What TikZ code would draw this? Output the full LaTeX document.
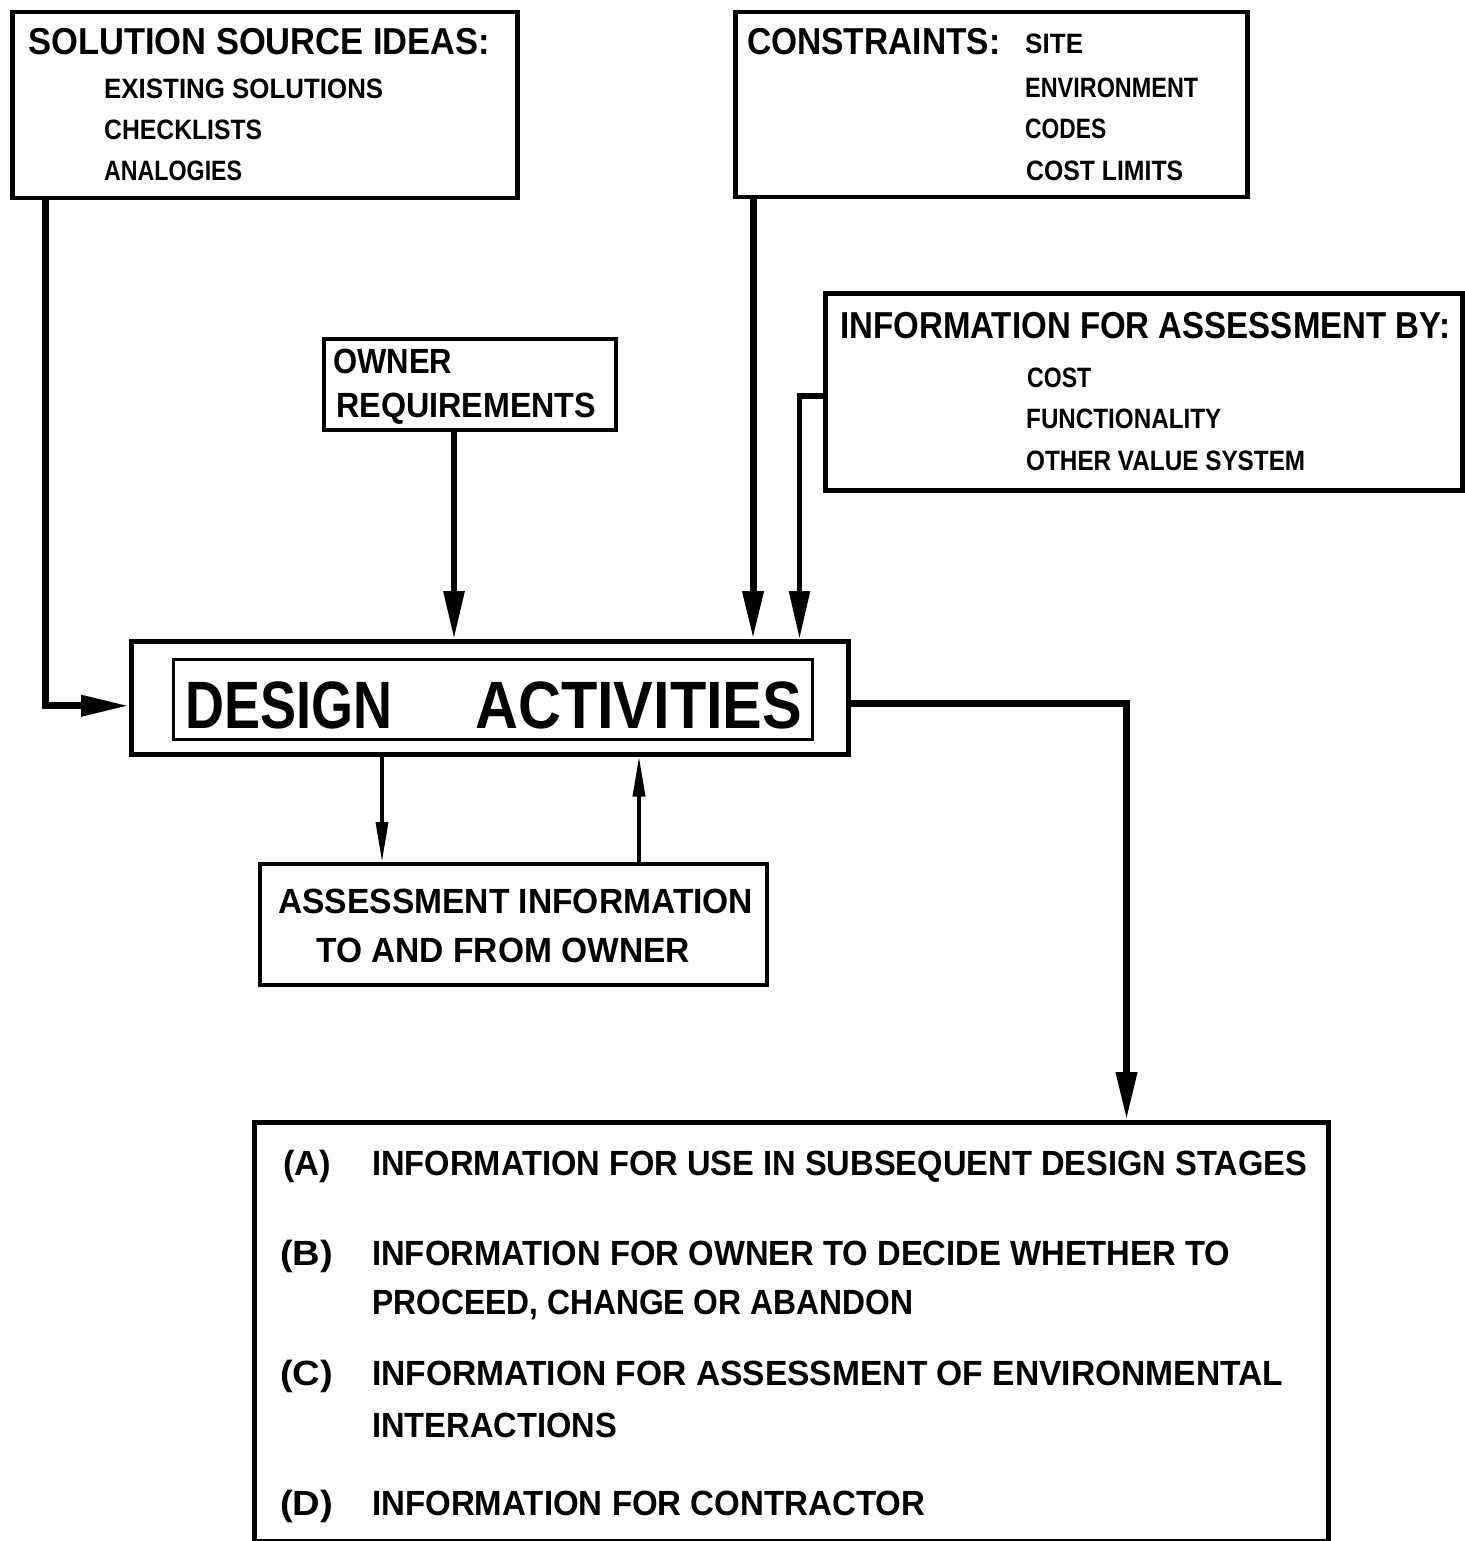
\documentclass[tikz,border=0pt]{standalone}
\usepackage{fontspec}
\setmainfont{Liberation Sans}
\usepackage{graphicx}
\usetikzlibrary{arrows.meta}
\newcommand\fw[2]{\resizebox{#1pt}{\height}{#2}}
\begin{document}
\begin{tikzpicture}[x=1pt,y=-1pt,
  box/.style={draw, line width=4.5pt, anchor=north west, inner sep=0pt},
  txt/.style={anchor=base west, inner sep=0pt},
  big/.style={txt, font=\fontsize{37.5}{40}\selectfont\bfseries},
  small/.style={txt, font=\fontsize{28}{30}\selectfont\bfseries},
  mid/.style={txt, font=\fontsize{35}{38}\selectfont\bfseries},
  huge/.style={txt, font=\fontsize{67}{70}\selectfont\bfseries},
  arrbig/.style={line width=7pt, -{Triangle[length=48pt,width=20pt]}},
  arrmid/.style={line width=6pt, -{Triangle[length=48pt,width=20pt]}},
  arrsm/.style={line width=3.5pt, -{Triangle[length=40pt,width=12pt]}}
]
\useasboundingbox (0,0) rectangle (1464,1541);
% boxes
\node[box, minimum width=505pt, minimum height=186pt] (sol) at (10,10) {};
\node[box, minimum width=512pt, minimum height=185pt] (con) at (733,10) {};
\node[box, minimum width=637pt, minimum height=197pt] (info) at (823,291) {};
\node[box, line width=4pt, minimum width=292pt, minimum height=91pt] (own) at (322,337) {};
\node[box, minimum width=717pt, minimum height=113pt] (da) at (129,639) {};
\node[box, line width=3pt, minimum width=639pt, minimum height=80pt] (dai) at (172,658) {};
\node[box, line width=4pt, minimum width=507pt, minimum height=121pt] (ass) at (258,862) {};
\node[box, minimum width=1074pt, minimum height=419pt] (out) at (252,1120) {};
% texts
\node[big] (t1) at (28,55) {\fw{462}{SOLUTION SOURCE IDEAS:}};
\node[small] (t1a) at (104,99) {\fw{279}{EXISTING SOLUTIONS}};
\node[small] (t1b) at (104,140) {\fw{158}{CHECKLISTS}};
\node[small] (t1c) at (104,181) {\fw{138}{ANALOGIES}};
\node[big] (t2) at (747,55) {\fw{253}{CONSTRAINTS:}};
\node[small] (t2a) at (1025,54) {\fw{58}{SITE}};
\node[small] (t2b) at (1025,98) {\fw{173}{ENVIRONMENT}};
\node[small] (t2c) at (1025,139) {\fw{81}{CODES}};
\node[small] (t2d) at (1026,181) {\fw{157}{COST LIMITS}};
\node[big] (t3) at (840,338) {\fw{610}{INFORMATION FOR ASSESSMENT BY:}};
\node[small] (t3a) at (1027,387) {\fw{64}{COST}};
\node[small] (t3b) at (1026,428) {\fw{195}{FUNCTIONALITY}};
\node[small] (t3c) at (1026,470) {\fw{279}{OTHER VALUE SYSTEM}};
\node[mid] (t4a) at (333,373) {\fw{119}{OWNER}};
\node[mid] (t4b) at (336,417) {\fw{260}{REQUIREMENTS}};
\node[huge] (t5a) at (185,728) {\fw{207}{DESIGN}};
\node[huge] (t5b) at (475,728) {\fw{327}{ACTIVITIES}};
\node[mid] (t6a) at (278,913) {\fw{475}{ASSESSMENT INFORMATION}};
\node[mid] (t6b) at (316,962) {\fw{374}{TO AND FROM OWNER}};
\node[mid] (la) at (283,1175) {\fw{48}{(A)}};
\node[mid] (ta) at (372,1175) {\fw{935}{INFORMATION FOR USE IN SUBSEQUENT DESIGN STAGES}};
\node[mid] (lb) at (280,1265) {\fw{53}{(B)}};
\node[mid] (tb1) at (372,1265) {\fw{858}{INFORMATION FOR OWNER TO DECIDE WHETHER TO}};
\node[mid] (tb2) at (372,1314) {\fw{541}{PROCEED, CHANGE OR ABANDON}};
\node[mid] (lc) at (280,1385) {\fw{53}{(C)}};
\node[mid] (tc1) at (372,1385) {\fw{911}{INFORMATION FOR ASSESSMENT OF ENVIRONMENTAL}};
\node[mid] (tc2) at (372,1437) {\fw{245}{INTERACTIONS}};
\node[mid] (ld) at (280,1515) {\fw{53}{(D)}};
\node[mid] (td) at (372,1515) {\fw{553}{INFORMATION FOR CONTRACTOR}};
% connectors
\draw[arrbig] ([xshift=35pt]sol.south west) |- ([yshift=-8pt]da.west);
\draw[arrmid] ([xshift=-16pt]own.south) -- ([xshift=-16pt]own.south |- da.north);
\draw[arrbig] ([xshift=20pt]con.south west) -- ([xshift=20pt]con.south west |- da.north);
\draw[arrmid, line width=5.5pt] ([yshift=-4pt]info.west) -| ([xshift=-51pt]da.north east);
\draw[arrbig] ([yshift=-6pt]da.east) -| ([xshift=-204pt]out.north east);
\draw[arrsm] ([xshift=253pt]da.south west) -- ([xshift=253pt]da.south west |- ass.north);
\draw[arrsm] ([xshift=381pt]ass.north west) -- ([xshift=381pt]ass.north west |- da.south);
\end{tikzpicture}
\end{document}
